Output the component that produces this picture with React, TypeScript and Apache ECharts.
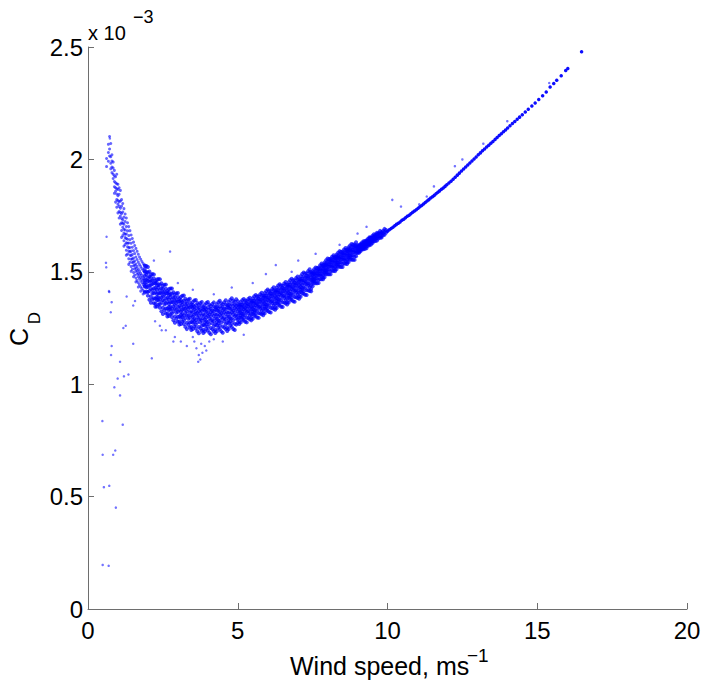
import React, { useEffect, useRef } from "react";
import * as echarts from "echarts";

// Values of C_D are given in units of 1e-3 (the axis carries the "x 10^-3" multiplier).
const xTicks = [0, 5, 10, 15, 20];
const yTicks = [0, 0.5, 1, 1.5, 2, 2.5];

// Steep branch at low wind speed, read column by column: [wind speed, C_D values]
const steepBranch: [number, number[]][] = [
  [0.62, [2.004, 1.968]],
  [0.68, [2.031, 2.067, 1.992]],
  [0.72, [2.102, 2.015, 2.046]],
  [0.76, [2.012, 1.958, 2.071, 1.983]],
  [0.8, [1.993, 2.021, 1.941, 1.966]],
  [0.84, [1.962, 1.915, 1.988, 1.934]],
  [0.88, [1.927, 1.878, 1.951, 1.902, 1.849]],
  [0.92, [1.896, 1.858, 1.923, 1.81, 1.874]],
  [0.96, [1.869, 1.821, 1.892, 1.787, 1.846, 1.934]],
  [1.0, [1.838, 1.801, 1.866, 1.762, 1.889, 1.817]],
  [1.04, [1.812, 1.768, 1.845, 1.739, 1.791, 1.874]],
  [1.08, [1.783, 1.748, 1.815, 1.712, 1.862, 1.764]],
  [1.12, [1.759, 1.718, 1.792, 1.684, 1.821, 1.737, 1.653]],
  [1.16, [1.731, 1.698, 1.766, 1.661, 1.804, 1.716]],
  [1.2, [1.712, 1.672, 1.743, 1.638, 1.781, 1.689, 1.614]],
  [1.24, [1.686, 1.652, 1.724, 1.621, 1.757, 1.667]],
  [1.28, [1.668, 1.629, 1.701, 1.596, 1.739, 1.648, 1.574]],
  [1.32, [1.645, 1.611, 1.682, 1.579, 1.718, 1.627]],
  [1.36, [1.628, 1.592, 1.661, 1.558, 1.701, 1.607, 1.533]],
  [1.4, [1.608, 1.575, 1.643, 1.542, 1.683, 1.589]],
  [1.44, [1.592, 1.556, 1.627, 1.524, 1.664, 1.571, 1.502]],
  [1.48, [1.577, 1.541, 1.609, 1.511, 1.648, 1.557]],
  [1.52, [1.561, 1.527, 1.594, 1.497, 1.632, 1.543, 1.478]],
  [1.56, [1.548, 1.513, 1.581, 1.486, 1.617, 1.529]],
  [1.6, [1.535, 1.501, 1.566, 1.472, 1.604, 1.517, 1.455]],
  [1.64, [1.524, 1.489, 1.555, 1.461, 1.591, 1.506]],
  [1.68, [1.512, 1.478, 1.543, 1.451, 1.578, 1.494, 1.432]],
  [1.72, [1.503, 1.469, 1.532, 1.442, 1.566, 1.486]],
  [1.76, [1.493, 1.459, 1.523, 1.433, 1.556, 1.476, 1.414]],
  [1.8, [1.485, 1.451, 1.514, 1.426, 1.546, 1.468]],
  [1.84, [1.477, 1.443, 1.506, 1.418, 1.537, 1.461, 1.401]],
  [1.88, [1.47, 1.436, 1.498, 1.412, 1.529, 1.453]],
];

// Dense cloud from 1.9 to 10 m/s, read column by column: [wind speed, C_D values]
const bandColumns: [number, number[]][] = [
  [1.9, [1.482, 1.435, 1.528, 1.463, 1.501, 1.408, 1.514, 1.449]],
  [1.95, [1.445, 1.487, 1.412, 1.526, 1.463, 1.431, 1.499]],
  [2.0, [1.472, 1.394, 1.459, 1.497, 1.432, 1.521, 1.41]],
  [2.05, [1.439, 1.478, 1.415, 1.501, 1.376, 1.457]],
  [2.1, [1.476, 1.424, 1.39, 1.46, 1.362, 1.441, 1.488]],
  [2.15, [1.404, 1.446, 1.49, 1.377, 1.461, 1.419]],
  [2.2, [1.427, 1.382, 1.449, 1.36, 1.47, 1.404, 1.488]],
  [2.25, [1.449, 1.41, 1.381, 1.428, 1.345, 1.459, 1.359]],
  [2.3, [1.42, 1.373, 1.466, 1.401, 1.439, 1.346, 1.452, 1.387]],
  [2.35, [1.387, 1.429, 1.354, 1.468, 1.405, 1.373, 1.441]],
  [2.4, [1.418, 1.34, 1.405, 1.443, 1.378, 1.467, 1.356]],
  [2.45, [1.387, 1.426, 1.363, 1.449, 1.324, 1.405]],
  [2.5, [1.426, 1.374, 1.34, 1.41, 1.312, 1.391, 1.438]],
  [2.55, [1.356, 1.398, 1.442, 1.329, 1.413, 1.371]],
  [2.6, [1.382, 1.337, 1.404, 1.315, 1.425, 1.359, 1.443]],
  [2.65, [1.405, 1.366, 1.337, 1.384, 1.301, 1.415, 1.315]],
  [2.7, [1.377, 1.33, 1.423, 1.358, 1.396, 1.303, 1.409, 1.344]],
  [2.75, [1.345, 1.387, 1.312, 1.426, 1.363, 1.331, 1.399]],
  [2.8, [1.377, 1.299, 1.364, 1.402, 1.337, 1.426, 1.315]],
  [2.85, [1.347, 1.386, 1.323, 1.409, 1.284, 1.365]],
  [2.9, [1.387, 1.335, 1.301, 1.371, 1.273, 1.352, 1.399]],
  [2.95, [1.318, 1.36, 1.404, 1.291, 1.375, 1.333]],
  [3.0, [1.345, 1.3, 1.367, 1.278, 1.388, 1.322, 1.406]],
  [3.05, [1.369, 1.33, 1.301, 1.348, 1.265, 1.379, 1.279]],
  [3.1, [1.342, 1.295, 1.388, 1.323, 1.361, 1.268, 1.374, 1.309]],
  [3.15, [1.312, 1.354, 1.279, 1.393, 1.33, 1.298, 1.366]],
  [3.2, [1.346, 1.268, 1.333, 1.371, 1.306, 1.395, 1.284]],
  [3.25, [1.318, 1.357, 1.294, 1.38, 1.255, 1.336]],
  [3.3, [1.359, 1.307, 1.273, 1.343, 1.245, 1.324, 1.371]],
  [3.35, [1.291, 1.333, 1.377, 1.264, 1.348, 1.306]],
  [3.4, [1.319, 1.274, 1.341, 1.252, 1.362, 1.296, 1.38]],
  [3.45, [1.345, 1.306, 1.277, 1.324, 1.241, 1.355, 1.255]],
  [3.5, [1.32, 1.273, 1.366, 1.301, 1.339, 1.246, 1.352, 1.287]],
  [3.55, [1.291, 1.333, 1.258, 1.372, 1.309, 1.277, 1.345]],
  [3.6, [1.326, 1.248, 1.313, 1.351, 1.286, 1.375, 1.264]],
  [3.65, [1.299, 1.338, 1.275, 1.361, 1.236, 1.317]],
  [3.7, [1.341, 1.289, 1.255, 1.325, 1.227, 1.306, 1.353]],
  [3.75, [1.275, 1.317, 1.361, 1.248, 1.332, 1.29]],
  [3.8, [1.305, 1.26, 1.327, 1.238, 1.348, 1.282, 1.366]],
  [3.85, [1.332, 1.293, 1.264, 1.311, 1.228, 1.342, 1.242]],
  [3.9, [1.308, 1.261, 1.354, 1.289, 1.327, 1.234, 1.34, 1.275]],
  [3.95, [1.28, 1.322, 1.247, 1.361, 1.298, 1.266, 1.334]],
  [4.0, [1.317, 1.239, 1.304, 1.342, 1.277, 1.366, 1.255]],
  [4.05, [1.292, 1.331, 1.268, 1.354, 1.229, 1.31]],
  [4.1, [1.336, 1.284, 1.25, 1.32, 1.222, 1.301, 1.348]],
  [4.15, [1.271, 1.313, 1.357, 1.244, 1.328, 1.286]],
  [4.2, [1.303, 1.258, 1.325, 1.236, 1.346, 1.28, 1.364]],
  [4.25, [1.332, 1.293, 1.264, 1.311, 1.228, 1.342, 1.242]],
  [4.3, [1.31, 1.263, 1.356, 1.291, 1.329, 1.236, 1.342, 1.277]],
  [4.35, [1.284, 1.326, 1.251, 1.365, 1.302, 1.27, 1.338]],
  [4.4, [1.322, 1.244, 1.309, 1.347, 1.282, 1.371, 1.26]],
  [4.45, [1.298, 1.337, 1.274, 1.36, 1.235, 1.316]],
  [4.5, [1.343, 1.291, 1.257, 1.327, 1.229, 1.308, 1.355]],
  [4.55, [1.279, 1.321, 1.365, 1.252, 1.336, 1.294]],
  [4.6, [1.312, 1.267, 1.334, 1.245, 1.355, 1.289, 1.373]],
  [4.65, [1.341, 1.302, 1.273, 1.32, 1.237, 1.351, 1.251]],
  [4.7, [1.32, 1.273, 1.366, 1.301, 1.339, 1.246, 1.352, 1.287]],
  [4.75, [1.294, 1.336, 1.261, 1.375, 1.312, 1.28, 1.348]],
  [4.8, [1.333, 1.255, 1.32, 1.358, 1.293, 1.382, 1.271]],
  [4.85, [1.309, 1.348, 1.285, 1.371, 1.246, 1.327]],
  [4.9, [1.355, 1.303, 1.269, 1.339, 1.241, 1.32, 1.367]],
  [4.95, [1.292, 1.334, 1.378, 1.265, 1.349, 1.307]],
  [5.0, [1.323, 1.289, 1.34, 1.273, 1.356, 1.306, 1.369]],
  [5.05, [1.346, 1.317, 1.295, 1.331, 1.268, 1.354, 1.279]],
  [5.1, [1.331, 1.296, 1.366, 1.317, 1.345, 1.275, 1.355, 1.306]],
  [5.15, [1.313, 1.344, 1.288, 1.374, 1.326, 1.302, 1.353]],
  [5.2, [1.343, 1.284, 1.333, 1.361, 1.312, 1.379, 1.296]],
  [5.25, [1.326, 1.355, 1.308, 1.372, 1.278, 1.339]],
  [5.3, [1.361, 1.322, 1.296, 1.349, 1.275, 1.335, 1.37]],
  [5.35, [1.314, 1.346, 1.379, 1.294, 1.357, 1.325]],
  [5.4, [1.339, 1.305, 1.356, 1.289, 1.372, 1.322, 1.385]],
  [5.45, [1.362, 1.333, 1.311, 1.347, 1.284, 1.37, 1.295]],
  [5.5, [1.347, 1.312, 1.382, 1.333, 1.361, 1.291, 1.371, 1.322]],
  [5.55, [1.33, 1.361, 1.305, 1.391, 1.343, 1.319, 1.37]],
  [5.6, [1.361, 1.302, 1.351, 1.379, 1.33, 1.397, 1.314]],
  [5.65, [1.345, 1.374, 1.327, 1.391, 1.297, 1.358]],
  [5.7, [1.381, 1.342, 1.316, 1.369, 1.295, 1.355, 1.39]],
  [5.75, [1.335, 1.367, 1.4, 1.315, 1.378, 1.346]],
  [5.8, [1.361, 1.327, 1.378, 1.311, 1.394, 1.344, 1.407]],
  [5.85, [1.385, 1.356, 1.334, 1.37, 1.307, 1.393, 1.318]],
  [5.9, [1.371, 1.336, 1.406, 1.357, 1.385, 1.315, 1.395, 1.346]],
  [5.95, [1.354, 1.385, 1.329, 1.415, 1.367, 1.343, 1.394]],
  [6.0, [1.385, 1.326, 1.375, 1.403, 1.354, 1.421, 1.338]],
  [6.05, [1.369, 1.398, 1.351, 1.415, 1.321, 1.382]],
  [6.1, [1.405, 1.366, 1.34, 1.393, 1.319, 1.379, 1.414]],
  [6.15, [1.359, 1.391, 1.424, 1.339, 1.402, 1.37]],
  [6.2, [1.385, 1.351, 1.402, 1.335, 1.418, 1.368, 1.431]],
  [6.25, [1.409, 1.38, 1.358, 1.394, 1.331, 1.417, 1.342]],
  [6.3, [1.395, 1.36, 1.43, 1.381, 1.409, 1.339, 1.419, 1.37]],
  [6.35, [1.378, 1.409, 1.353, 1.439, 1.391, 1.367, 1.418]],
  [6.4, [1.409, 1.35, 1.399, 1.427, 1.378, 1.445, 1.362]],
  [6.45, [1.393, 1.422, 1.375, 1.439, 1.345, 1.406]],
  [6.5, [1.429, 1.39, 1.364, 1.417, 1.343, 1.403, 1.438]],
  [6.55, [1.383, 1.415, 1.448, 1.363, 1.426, 1.394]],
  [6.6, [1.409, 1.375, 1.426, 1.359, 1.442, 1.392, 1.455]],
  [6.65, [1.433, 1.404, 1.382, 1.418, 1.355, 1.441, 1.366]],
  [6.7, [1.419, 1.384, 1.454, 1.405, 1.433, 1.363, 1.443, 1.394]],
  [6.75, [1.402, 1.433, 1.377, 1.463, 1.415, 1.391, 1.442]],
  [6.8, [1.433, 1.374, 1.423, 1.451, 1.402, 1.469, 1.386]],
  [6.85, [1.417, 1.446, 1.399, 1.463, 1.369, 1.43]],
  [6.9, [1.453, 1.414, 1.388, 1.441, 1.367, 1.427, 1.462]],
  [6.95, [1.407, 1.439, 1.472, 1.387, 1.45, 1.418]],
  [7.0, [1.433, 1.399, 1.45, 1.383, 1.466, 1.416, 1.479]],
  [7.05, [1.458, 1.429, 1.407, 1.443, 1.38, 1.466, 1.391]],
  [7.1, [1.445, 1.41, 1.48, 1.431, 1.459, 1.389, 1.469, 1.42]],
  [7.15, [1.429, 1.46, 1.404, 1.49, 1.442, 1.418, 1.469]],
  [7.2, [1.461, 1.402, 1.451, 1.479, 1.43, 1.497, 1.414]],
  [7.25, [1.446, 1.475, 1.428, 1.492, 1.398, 1.459]],
  [7.3, [1.483, 1.444, 1.418, 1.471, 1.397, 1.457, 1.492]],
  [7.35, [1.438, 1.47, 1.503, 1.418, 1.481, 1.449]],
  [7.4, [1.465, 1.431, 1.482, 1.415, 1.498, 1.448, 1.511]],
  [7.45, [1.491, 1.462, 1.44, 1.476, 1.413, 1.499, 1.424]],
  [7.5, [1.477, 1.451, 1.502, 1.466, 1.487, 1.436, 1.494, 1.458]],
  [7.55, [1.467, 1.49, 1.449, 1.511, 1.477, 1.459, 1.496]],
  [7.6, [1.492, 1.449, 1.485, 1.506, 1.47, 1.519, 1.458]],
  [7.65, [1.483, 1.505, 1.47, 1.517, 1.449, 1.493]],
  [7.7, [1.513, 1.484, 1.465, 1.504, 1.45, 1.493, 1.519]],
  [7.75, [1.482, 1.505, 1.529, 1.467, 1.513, 1.49]],
  [7.8, [1.504, 1.479, 1.516, 1.467, 1.528, 1.491, 1.537]],
  [7.85, [1.524, 1.503, 1.487, 1.513, 1.467, 1.53, 1.475]],
  [7.9, [1.517, 1.491, 1.542, 1.506, 1.527, 1.476, 1.534, 1.498]],
  [7.95, [1.507, 1.53, 1.489, 1.551, 1.517, 1.499, 1.536]],
  [8.0, [1.532, 1.489, 1.525, 1.546, 1.51, 1.559, 1.498]],
  [8.05, [1.523, 1.545, 1.51, 1.557, 1.489, 1.533]],
  [8.1, [1.552, 1.523, 1.504, 1.543, 1.489, 1.532, 1.558]],
  [8.15, [1.52, 1.543, 1.567, 1.505, 1.551, 1.528]],
  [8.2, [1.541, 1.516, 1.553, 1.504, 1.565, 1.528, 1.574]],
  [8.25, [1.56, 1.539, 1.523, 1.549, 1.503, 1.566, 1.511]],
  [8.3, [1.552, 1.526, 1.577, 1.541, 1.562, 1.511, 1.569, 1.533]],
  [8.35, [1.541, 1.564, 1.523, 1.585, 1.551, 1.533, 1.57]],
  [8.4, [1.565, 1.522, 1.558, 1.579, 1.543, 1.592, 1.531]],
  [8.45, [1.555, 1.577, 1.542, 1.589, 1.521, 1.565]],
  [8.5, [1.584, 1.555, 1.536, 1.575, 1.521, 1.564, 1.59]],
  [8.55, [1.552, 1.575, 1.599, 1.537, 1.583, 1.56]],
  [8.6, [1.573, 1.548, 1.585, 1.536, 1.597, 1.56, 1.606]],
  [8.65, [1.592, 1.571, 1.555, 1.581, 1.535, 1.598, 1.543]],
  [8.7, [1.584, 1.558, 1.609, 1.573, 1.594, 1.543, 1.601, 1.565]],
  [8.75, [1.573, 1.596, 1.555, 1.617, 1.583, 1.565, 1.602]],
  [8.8, [1.597, 1.554, 1.59, 1.611, 1.575, 1.624, 1.563]],
  [8.85, [1.587, 1.609, 1.574, 1.621, 1.553, 1.597]],
  [8.9, [1.616, 1.587, 1.568, 1.607, 1.553, 1.596, 1.622]],
  [8.95, [1.584, 1.607, 1.631, 1.569, 1.615, 1.592]],
  [9.0, [1.602, 1.589, 1.608, 1.583, 1.614, 1.596, 1.619]],
  [9.05, [1.614, 1.603, 1.595, 1.608, 1.585, 1.617, 1.589]],
  [9.1, [1.611, 1.598, 1.624, 1.606, 1.617, 1.591, 1.62, 1.602]],
  [9.15, [1.608, 1.62, 1.599, 1.63, 1.613, 1.604, 1.623]],
  [9.2, [1.622, 1.6, 1.619, 1.629, 1.611, 1.636, 1.605]],
  [9.25, [1.619, 1.63, 1.612, 1.637, 1.602, 1.624]],
  [9.3, [1.636, 1.622, 1.612, 1.632, 1.605, 1.627, 1.64]],
  [9.35, [1.623, 1.635, 1.647, 1.616, 1.639, 1.627]],
  [9.4, [1.637, 1.624, 1.643, 1.618, 1.649, 1.631, 1.654]],
  [9.45, [1.65, 1.639, 1.631, 1.644, 1.621, 1.653]],
  [9.5, [1.648, 1.635, 1.661, 1.643, 1.654, 1.628]],
  [9.55, [1.645, 1.657, 1.636, 1.667, 1.65]],
  [9.6, [1.659, 1.637, 1.656, 1.666, 1.648]],
  [9.65, [1.656, 1.667, 1.649, 1.674, 1.639]],
  [9.7, [1.672, 1.658, 1.648, 1.668]],
  [9.75, [1.658, 1.67, 1.682, 1.651]],
  [9.8, [1.671, 1.658, 1.677, 1.652]],
  [9.85, [1.682, 1.671, 1.663]],
  [9.9, [1.678, 1.665, 1.691]],
  [9.95, [1.674, 1.686]],
];

// Narrow trace above 10 m/s: [wind speed, C_D]
const lineTrace: [number, number][] = [
  [10.0, 1.68], [10.06, 1.687], [10.12, 1.693], [10.18, 1.698], [10.24, 1.705], [10.3, 1.711],
  [10.36, 1.716], [10.42, 1.722], [10.48, 1.729], [10.54, 1.734], [10.6, 1.74], [10.66, 1.747],
  [10.72, 1.752], [10.78, 1.758], [10.84, 1.765], [10.9, 1.77], [10.96, 1.776], [11.02, 1.783],
  [11.08, 1.789], [11.14, 1.795], [11.2, 1.802], [11.26, 1.808], [11.32, 1.815], [11.38, 1.821],
  [11.44, 1.828], [11.5, 1.834], [11.56, 1.84], [11.62, 1.847], [11.68, 1.854], [11.74, 1.86],
  [11.8, 1.867], [11.86, 1.873], [11.92, 1.88], [11.98, 1.887], [12.05, 1.895], [12.12, 1.903],
  [12.19, 1.912], [12.26, 1.921], [12.33, 1.93], [12.4, 1.939], [12.47, 1.948], [12.54, 1.957],
  [12.61, 1.966], [12.68, 1.975], [12.75, 1.984], [12.82, 1.993], [12.89, 2.002], [12.96, 2.011],
  [13.03, 2.021], [13.1, 2.029], [13.17, 2.038], [13.24, 2.046], [13.31, 2.055], [13.38, 2.063],
  [13.45, 2.072], [13.52, 2.08], [13.59, 2.089], [13.66, 2.097], [13.73, 2.106], [13.8, 2.114],
  [13.87, 2.123], [13.94, 2.131], [14.01, 2.14], [14.09, 2.15], [14.17, 2.16], [14.25, 2.169],
  [14.33, 2.179], [14.41, 2.188], [14.5, 2.199], [14.6, 2.211], [14.7, 2.223], [14.82, 2.238],
  [14.93, 2.251], [15.05, 2.266], [15.18, 2.283], [15.3, 2.3], [15.43, 2.322], [15.55, 2.338],
  [15.65, 2.352], [15.8, 2.372], [15.95, 2.395], [16.02, 2.404], [16.48, 2.479],
];

// Isolated points away from the main cloud: [wind speed, C_D]
const outliers: [number, number][] = [
  [0.48, 0.836], [0.49, 0.686], [0.84, 0.686], [0.91, 0.705], [0.53, 0.542], [0.71, 0.548],
  [0.93, 0.451], [0.49, 0.196], [0.69, 0.192], [1.16, 0.82], [0.88, 0.986], [1.07, 0.95],
  [0.99, 1.025], [1.2, 1.035], [1.35, 1.043], [1.07, 1.1], [0.77, 1.13], [0.79, 1.17],
  [1.51, 1.18], [1.18, 1.25], [1.26, 1.26], [0.76, 1.32], [0.79, 1.365], [0.7, 1.414],
  [1.29, 1.39], [1.51, 1.35], [0.62, 1.656], [0.6, 1.54], [0.61, 1.52], [0.71, 1.41],
  [0.73, 2.093], [1.57, 1.37], [2.24, 1.28], [2.46, 1.24], [2.85, 1.19], [2.13, 1.115],
  [3.55, 1.19], [3.62, 1.16], [3.7, 1.13], [3.75, 1.11], [3.68, 1.1], [3.82, 1.14],
  [3.9, 1.17], [3.78, 1.18], [4.05, 1.19], [3.95, 1.15], [3.5, 1.21], [4.2, 1.2],
  [2.9, 1.21], [3.1, 1.19], [4.5, 1.19], [5.2, 1.22], [2.6, 1.24], [2.4, 1.26], [3.3, 1.17],
  [2.74, 1.59], [6.27, 1.53], [5.94, 1.49], [7.02, 1.55], [6.8, 1.5], [4.8, 1.43],
  [4.2, 1.4], [3.5, 1.42], [3.0, 1.45], [2.2, 1.55], [5.5, 1.45], [7.6, 1.58], [8.4, 1.62],
  [10.16, 1.82], [10.45, 1.79], [11.06, 1.8], [11.31, 1.835], [11.55, 1.88], [12.25, 1.97],
  [12.5, 2.0], [9.3, 1.7], [9.0, 1.67], [13.2, 2.07], [14.0, 2.17], [15.4, 2.34],
];

const FONT = "'Liberation Sans', Arial, Helvetica, sans-serif";

export default function App() {
  const ref = useRef<HTMLDivElement>(null);
  useEffect(() => {
    if (!ref.current) return;
    const chart = echarts.init(ref.current, null, { renderer: "svg" });
    const toPoints = (cols: [number, number[]][]) => cols.flatMap(([x, ys]) => ys.map((y) => [x, y]));
    const axisColor = "#6e6e6e";
    chart.setOption({
      animation: false,
      backgroundColor: "#ffffff",
      grid: { left: 88, right: 17, top: 47, bottom: 77, containLabel: false },
      xAxis: {
        type: "value",
        min: xTicks[0],
        max: xTicks[xTicks.length - 1],
        interval: 5,
        axisLine: { show: true, onZero: false, lineStyle: { color: axisColor, width: 1 } },
        axisTick: { show: true, inside: true, length: 6, lineStyle: { color: axisColor } },
        axisLabel: { fontSize: 24, color: "#000", margin: 9, fontFamily: FONT },
        splitLine: { show: false },
      },
      yAxis: {
        type: "value",
        min: yTicks[0],
        max: yTicks[yTicks.length - 1],
        interval: 0.5,
        axisLine: { show: true, onZero: false, lineStyle: { color: axisColor, width: 1 } },
        axisTick: { show: true, inside: true, length: 6, lineStyle: { color: axisColor } },
        axisLabel: { fontSize: 24, color: "#000", margin: 5, fontFamily: FONT },
        splitLine: { show: false },
      },
      series: [
        {
          type: "scatter",
          data: toPoints(steepBranch),
          symbol: "circle",
          symbolSize: 3,
          itemStyle: { color: "#0000ff", opacity: 0.6 },
          silent: true,
        },
        {
          type: "scatter",
          data: toPoints(bandColumns),
          symbol: "circle",
          symbolSize: 4,
          itemStyle: { color: "#0000ff", opacity: 0.72 },
          silent: true,
        },
        {
          type: "scatter",
          data: lineTrace,
          symbol: "circle",
          symbolSize: 3.5,
          itemStyle: { color: "#0000ff", opacity: 0.95 },
          silent: true,
        },
        {
          type: "scatter",
          data: outliers,
          symbol: "circle",
          symbolSize: 2.5,
          itemStyle: { color: "#0000ff", opacity: 0.55 },
          silent: true,
        },
      ],
      graphic: [
        {
          type: "text",
          x: 88,
          y: 33,
          style: { text: "x 10", font: `20px ${FONT}`, fill: "#000", align: "left", verticalAlign: "middle" },
        },
        {
          type: "text",
          x: 133,
          y: 17,
          style: { text: "\u22123", font: `18px ${FONT}`, fill: "#000", align: "left", verticalAlign: "middle" },
        },
        {
          type: "text",
          x: 290,
          y: 666,
          style: { text: "Wind speed, ms", font: `25px ${FONT}`, fill: "#000", align: "left", verticalAlign: "middle" },
        },
        {
          type: "text",
          x: 467,
          y: 655,
          style: { text: "\u22121", font: `19px ${FONT}`, fill: "#000", align: "left", verticalAlign: "middle" },
        },
        {
          type: "text",
          x: 19,
          y: 337,
          rotation: Math.PI / 2,
          style: { text: "C", font: `25px ${FONT}`, fill: "#000", align: "center", verticalAlign: "middle" },
        },
        {
          type: "text",
          x: 34,
          y: 318,
          rotation: Math.PI / 2,
          style: { text: "D", font: `17px ${FONT}`, fill: "#000", align: "center", verticalAlign: "middle" },
        },
      ],
    });
    return () => chart.dispose();
  }, []);
  return (
    <div
      ref={ref}
      style={{ position: "absolute", left: 0, top: 0, width: 704, height: 686, background: "#fff" }}
    />
  );
}
